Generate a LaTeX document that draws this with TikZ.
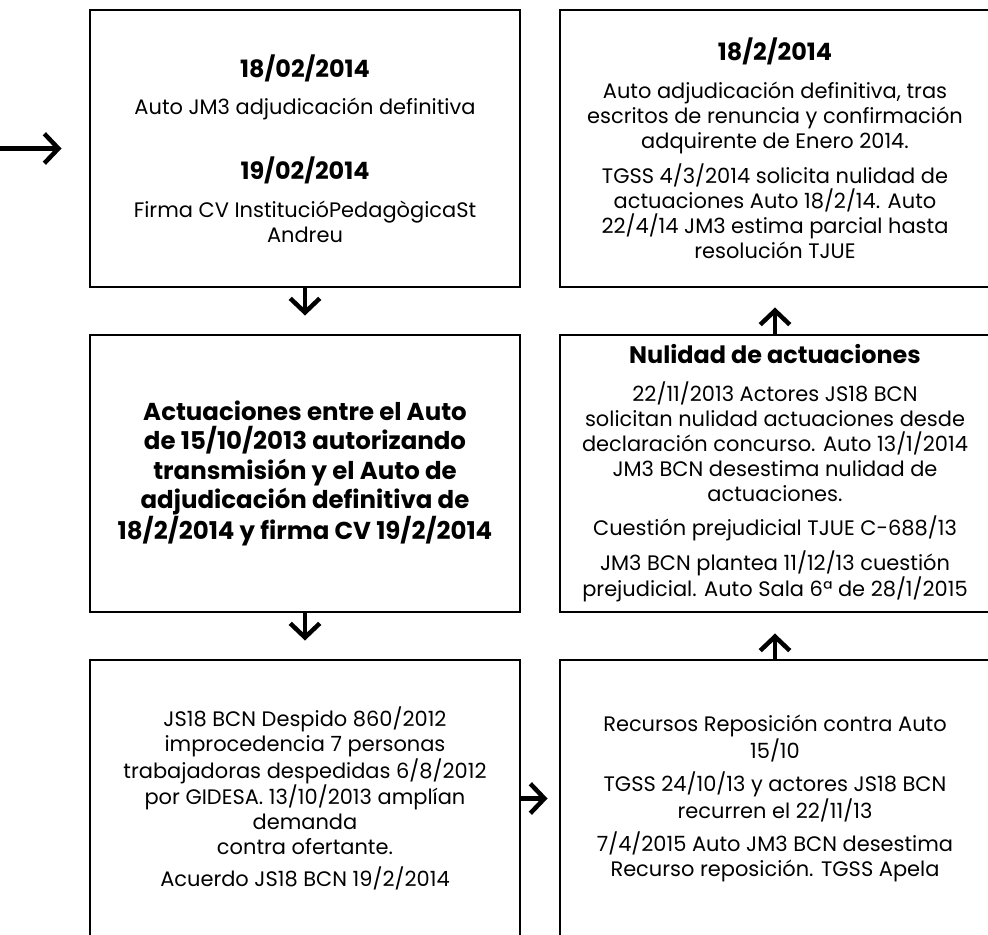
\documentclass[tikz,border=0pt]{standalone}
\usepackage{fontspec}
\setmainfont{Poppins}
\usetikzlibrary{arrows.meta}

\begin{document}
\begin{tikzpicture}[
  font=\fontsize{14.9}{17.8}\selectfont,
  >={Straight Barb[length=10pt, width=21pt]},
  box/.style={draw, line width=2.1pt, align=center, minimum width=10.75cm,
              minimum height=6.925cm, inner sep=0pt},
  arr/.style={->, line width=3.2pt, shorten >=0.45cm},
]
\useasboundingbox (0,0) rectangle (24.7,-23.375);
% left column, top to bottom
\node[box] (adjud) at (7.625,-3.7125)
  {\textbf{\fontsize{17}{17.8}\selectfont 18/02/2014}\\[9pt]
   Auto JM3 adjudicación definitiva\\[25pt]
   \textbf{\fontsize{17}{17.8}\selectfont 19/02/2014}\\[9pt]
   Firma CV InstitucióPedagògicaSt\\
   Andreu};
\node[box, font=\fontsize{17.4}{21}\selectfont\bfseries] (actuac) at (7.625,-11.8375)
  {Actuaciones entre el Auto\\
   de 15/10/2013 autorizando\\
   transmisión y el Auto de\\
   adjudicación definitiva de\\
   18/2/2014 y firma CV 19/2/2014};
\node[box] (despido) at (7.625,-19.9625)
  {JS18 BCN Despido 860/2012\\
   improcedencia 7 personas\\
   trabajadoras despedidas 6/8/2012\\
   por GIDESA. 13/10/2013 amplían\\
   demanda\\
   contra ofertante.\\[5pt]
   Acuerdo JS18 BCN 19/2/2014};
% right column, bottom to top
\node[box] (recurso) at (19.375,-19.9625)
  {Recursos Reposición contra Auto\\
   15/10\\[6pt]
   TGSS 24/10/13 y actores JS18 BCN\\
   recurren el 22/11/13\\[6pt]
   7/4/2015 Auto JM3 BCN desestima\\
   Recurso reposición. TGSS Apela};
\node[box] (nulidad) at (19.375,-11.8375)
  {\textbf{\fontsize{17}{17.8}\selectfont Nulidad de actuaciones}\\[9pt]
   22/11/2013 Actores JS18 BCN\\
   solicitan nulidad actuaciones desde\\
   declaración concurso. Auto 13/1/2014\\
   JM3 BCN desestima nulidad de\\
   actuaciones.\\[6pt]
   Cuestión prejudicial TJUE C-688/13\\[6pt]
   JM3 BCN plantea 11/12/13 cuestión\\
   prejudicial. Auto Sala 6ª de 28/1/2015};
\node[box] (renuncia) at (19.375,-3.7125)
  {\textbf{\fontsize{17}{17.8}\selectfont 18/2/2014}\\[9pt]
   Auto adjudicación definitiva, tras\\
   escritos de renuncia y confirmación\\
   adquirente de Enero 2014.\\[6pt]
   TGSS 4/3/2014 solicita nulidad de\\
   actuaciones Auto 18/2/14. Auto\\
   22/4/14 JM3 estima parcial hasta\\
   resolución TJUE};

\coordinate (start) at (0,-3.7125);
\draw[arr, shorten >=0.675cm] (start) -- (adjud);
\draw[arr] (adjud) -- (actuac);
\draw[arr] (actuac) -- (despido);
\draw[arr, shorten >=0.275cm] (despido) -- (recurso);
\draw[arr, shorten >=0.5cm] (recurso) -- (nulidad);
\draw[arr, shorten >=0.475cm] (nulidad) -- (renuncia);
\end{tikzpicture}
\end{document}
